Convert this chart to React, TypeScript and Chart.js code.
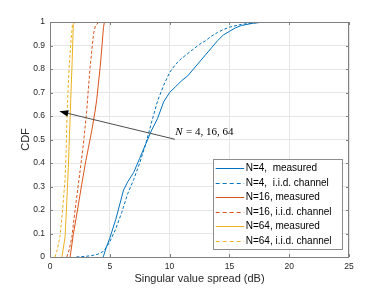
import React, { useEffect, useRef } from 'react';
import { Chart, registerables } from 'chart.js';

Chart.register(...registerables);

const X_TICKS = [0, 5, 10, 15, 20, 25];
const X_TICK_LABELS = ['0', '5', '10', '15', '20', '25'];
const Y_TICKS = [0, 0.1, 0.2, 0.3, 0.4, 0.5, 0.6, 0.7, 0.8, 0.9, 1];
const Y_TICK_LABELS = ['0', '0.1', '0.2', '0.3', '0.4', '0.5', '0.6', '0.7', '0.8', '0.9', '1'];

const X_TITLE = 'Singular value spread (dB)';
const Y_TITLE = 'CDF';

const SERIES_LABELS = [
  'N=4,  measured',
  'N=4,  i.i.d. channel',
  'N=16, measured',
  'N=16, i.i.d. channel',
  'N=64, measured',
  'N=64, i.i.d. channel',
];
const SERIES_COLORS = ['#0072BD', '#0072BD', '#D95319', '#D95319', '#EDB120', '#EDB120'];
const SERIES_DASHED = [false, true, false, true, false, true];

const N4_MEAS_X = [4.45, 4.7, 5.0, 5.5, 6.15, 6.5, 7.0, 7.5, 8.0, 8.5, 9.0, 9.5, 10.0, 10.5, 11.0, 11.5, 12.0, 12.5, 13.0, 13.5, 14.0, 14.5, 15.0, 15.5, 16.0, 17.0, 18.0, 19.0];
const N4_MEAS_Y = [0, 0.04, 0.08, 0.16, 0.285, 0.32, 0.36, 0.42, 0.48, 0.54, 0.59, 0.66, 0.70, 0.725, 0.75, 0.77, 0.80, 0.83, 0.86, 0.89, 0.92, 0.945, 0.96, 0.975, 0.985, 0.995, 1.0, 1.0];

const N4_IID_X = [2.2, 3.0, 3.5, 4.0, 4.5, 5.0, 5.5, 6.0, 6.5, 7.0, 7.5, 8.0, 8.5, 9.0, 9.5, 10.0, 10.5, 11.0, 11.5, 12.0, 12.5, 13.0, 13.5, 14.0, 14.5, 15.0, 16.0, 17.0, 18.0, 20.0, 25.0];
const N4_IID_Y = [0, 0.003, 0.006, 0.012, 0.025, 0.065, 0.12, 0.19, 0.27, 0.33, 0.40, 0.48, 0.575, 0.665, 0.73, 0.785, 0.82, 0.845, 0.865, 0.885, 0.905, 0.92, 0.94, 0.955, 0.968, 0.978, 0.99, 0.996, 1.0, 1.0, 1.0];

const N16_MEAS_X = [1.68, 1.95, 2.3, 2.65, 3.0, 3.21, 3.5, 3.77, 3.91, 4.05, 4.19, 4.35, 4.47, 4.55];
const N16_MEAS_Y = [0, 0.096, 0.2, 0.309, 0.41, 0.465, 0.54, 0.621, 0.671, 0.74, 0.806, 0.9, 0.976, 1.0];

const N16_IID_X = [1.4, 1.6, 1.82, 2.1, 2.37, 2.6, 2.79, 3.07, 3.2, 3.35, 3.5, 3.63, 3.8, 4.05, 4.5, 5.5];
const N16_IID_Y = [0, 0.03, 0.082, 0.2, 0.309, 0.4, 0.479, 0.621, 0.71, 0.806, 0.88, 0.947, 0.985, 0.997, 1.0, 1.0];

const N64_MEAS_X = [1.0, 1.26, 1.4, 1.53, 1.63, 1.73, 1.85, 1.95, 2.1];
const N64_MEAS_Y = [0, 0.085, 0.23, 0.38, 0.52, 0.664, 0.83, 0.99, 1.0];

const N64_IID_X = [0.42, 0.6, 0.84, 1.05, 1.26, 1.35, 1.42, 1.5, 1.59, 1.76, 1.9];
const N64_IID_Y = [0, 0.03, 0.088, 0.2, 0.33, 0.45, 0.6, 0.7, 0.797, 0.925, 1.0];

const SERIES_X = [N4_MEAS_X, N4_IID_X, N16_MEAS_X, N16_IID_X, N64_MEAS_X, N64_IID_X];
const SERIES_Y = [N4_MEAS_Y, N4_IID_Y, N16_MEAS_Y, N16_IID_Y, N64_MEAS_Y, N64_IID_Y];

const ARROW_FROM = { x: 10.44, y: 0.501 };
const ARROW_TO = { x: 0.78, y: 0.62 };
const ANNOT_POS = { x: 10.48, y: 0.53 };
const ANNOT_ITALIC = 'N';
const ANNOT_REST = ' = 4, 16, 64';

const FRAME_COLOR = '#808080';
const GRID_COLOR = '#e6e6e6';
const TEXT_COLOR = '#262626';

const decorPlugin = {
  id: 'decor',
  afterDatasetsDraw(chart: any) {
    const ctx = chart.ctx;
    const area = chart.chartArea;
    const xs = chart.scales.x;
    const ys = chart.scales.y;
    ctx.save();

    // frame
    ctx.strokeStyle = FRAME_COLOR;
    ctx.lineWidth = 1;
    ctx.strokeRect(Math.round(area.left) + 0.5, Math.round(area.top) + 0.5, Math.round(area.right - area.left) - 1, Math.round(area.bottom - area.top));
    // inner ticks
    ctx.beginPath();
    const tl = 3;
    X_TICKS.forEach((v) => {
      const px = Math.round(xs.getPixelForValue(v)) + 0.5;
      ctx.moveTo(px, area.bottom);
      ctx.lineTo(px, area.bottom - tl);
      ctx.moveTo(px, area.top);
      ctx.lineTo(px, area.top + tl);
    });
    Y_TICKS.forEach((v) => {
      const py = Math.round(ys.getPixelForValue(v)) + 0.5;
      ctx.moveTo(area.left, py);
      ctx.lineTo(area.left + tl, py);
      ctx.moveTo(area.right, py);
      ctx.lineTo(area.right - tl, py);
    });
    ctx.stroke();

    // arrow
    const x0 = xs.getPixelForValue(ARROW_FROM.x);
    const y0 = ys.getPixelForValue(ARROW_FROM.y);
    const x1 = xs.getPixelForValue(ARROW_TO.x);
    const y1 = ys.getPixelForValue(ARROW_TO.y);
    const ang = Math.atan2(y1 - y0, x1 - x0);
    const headLen = 9;
    const headW = 3.2;
    const bx = x1 - headLen * Math.cos(ang);
    const by = y1 - headLen * Math.sin(ang);
    ctx.strokeStyle = '#4d4d4d';
    ctx.lineWidth = 1;
    ctx.beginPath();
    ctx.moveTo(x0, y0);
    ctx.lineTo(bx, by);
    ctx.stroke();
    ctx.fillStyle = '#000000';
    ctx.beginPath();
    ctx.moveTo(x1, y1);
    ctx.lineTo(bx + headW * Math.sin(ang), by - headW * Math.cos(ang));
    ctx.lineTo(bx - headW * Math.sin(ang), by + headW * Math.cos(ang));
    ctx.closePath();
    ctx.fill();

    // annotation text
    const tx = xs.getPixelForValue(ANNOT_POS.x);
    const ty = ys.getPixelForValue(ANNOT_POS.y);
    ctx.fillStyle = '#000000';
    ctx.textBaseline = 'middle';
    ctx.textAlign = 'left';
    ctx.font = 'italic 11px "Liberation Serif"';
    ctx.fillText(ANNOT_ITALIC, tx, ty);
    const w = ctx.measureText(ANNOT_ITALIC).width;
    ctx.font = '11px "Liberation Serif"';
    ctx.fillText(ANNOT_REST, tx + w + 0.5, ty);

    // legend
    const lw = 128.5;
    const rowH = 14.6;
    const lh = rowH * SERIES_LABELS.length + 2;
    const lRight = area.right - 7.3;
    const lBottom = area.bottom - 8;
    const lLeft = lRight - lw;
    const lTop = lBottom - lh;
    ctx.fillStyle = '#ffffff';
    ctx.fillRect(lLeft, lTop, lw, lh);
    ctx.strokeStyle = '#8c8c8c';
    ctx.lineWidth = 1;
    ctx.strokeRect(Math.round(lLeft) + 0.5, Math.round(lTop) + 0.5, Math.round(lw), Math.round(lh));
    ctx.font = '10px "Liberation Sans", Arial, sans-serif';
    ctx.textBaseline = 'middle';
    chart.data.datasets.forEach((ds: any, i: number) => {
      const cy = Math.round(lTop + 8.5 + i * rowH) + 0.5;
      ctx.strokeStyle = ds.borderColor;
      ctx.lineWidth = 1;
      ctx.setLineDash(SERIES_DASHED[i] ? [4, 3] : []);
      ctx.beginPath();
      ctx.moveTo(lLeft + 2.5, cy);
      ctx.lineTo(lLeft + 31, cy);
      ctx.stroke();
      ctx.setLineDash([]);
      ctx.fillStyle = '#000000';
      ctx.fillText(ds.label, lLeft + 32.5, cy);
    });
    ctx.restore();
  },
};

export default function App() {
  const ref = useRef<HTMLCanvasElement | null>(null);
  useEffect(() => {
    if (!ref.current) return;
    const datasets = SERIES_LABELS.map((label, i) => ({
      label,
      data: SERIES_X[i].map((x, j) => ({ x, y: SERIES_Y[i][j] })),
      borderColor: SERIES_COLORS[i],
      backgroundColor: SERIES_COLORS[i],
      borderWidth: 1,
      borderDash: SERIES_DASHED[i] ? [3, 2] : [],
      pointRadius: 0,
      tension: 0,
      fill: false,
    }));
    const chart = new Chart(ref.current, {
      type: 'line',
      data: { datasets },
      plugins: [decorPlugin],
      options: {
        animation: false,
        responsive: false,
        maintainAspectRatio: false,
        devicePixelRatio: 1,
        layout: { padding: { top: 22, right: 36, left: 0, bottom: 0 } },
        plugins: { legend: { display: false }, tooltip: { enabled: false } },
        scales: {
          x: {
            type: 'linear',
            min: 0,
            max: 25,
            afterBuildTicks: (s: any) => { s.ticks = X_TICKS.map((v) => ({ value: v })); },
            afterFit: (s: any) => { s.height = 32; },
            ticks: {
              callback: (_v: any, i: number) => X_TICK_LABELS[i],
              padding: 5,
              maxRotation: 0,
              autoSkip: false,
              color: TEXT_COLOR,
              font: { family: '"Liberation Sans", Arial, sans-serif', size: 8.5 },
            },
            grid: { color: GRID_COLOR, drawTicks: false, lineWidth: 1 },
            border: { display: false },
            title: {
              display: true,
              text: X_TITLE,
              color: TEXT_COLOR,
              padding: { top: 0, bottom: 3 },
              font: { family: '"Liberation Sans", Arial, sans-serif', size: 11 },
            },
          },
          y: {
            type: 'linear',
            min: 0,
            max: 1,
            afterBuildTicks: (s: any) => { s.ticks = Y_TICKS.map((v) => ({ value: v })); },
            afterFit: (s: any) => { s.width = 50; },
            ticks: {
              callback: (_v: any, i: number) => Y_TICK_LABELS[i],
              padding: 5,
              autoSkip: false,
              color: TEXT_COLOR,
              font: { family: '"Liberation Sans", Arial, sans-serif', size: 8.5 },
            },
            grid: { color: GRID_COLOR, drawTicks: false, lineWidth: 1 },
            border: { display: false },
            title: {
              display: true,
              text: Y_TITLE,
              color: TEXT_COLOR,
              padding: { top: 19, bottom: 0 },
              font: { family: '"Liberation Sans", Arial, sans-serif', size: 11 },
            },
          },
        },
      } as any,
    });
    return () => chart.destroy();
  }, []);
  return (
    <div style={{ position: 'fixed', left: 0, top: 0, width: 385, height: 289, background: '#fff' }}>
      <canvas ref={ref} width={385} height={289} style={{ display: 'block', width: 385, height: 289 }} />
    </div>
  );
}
